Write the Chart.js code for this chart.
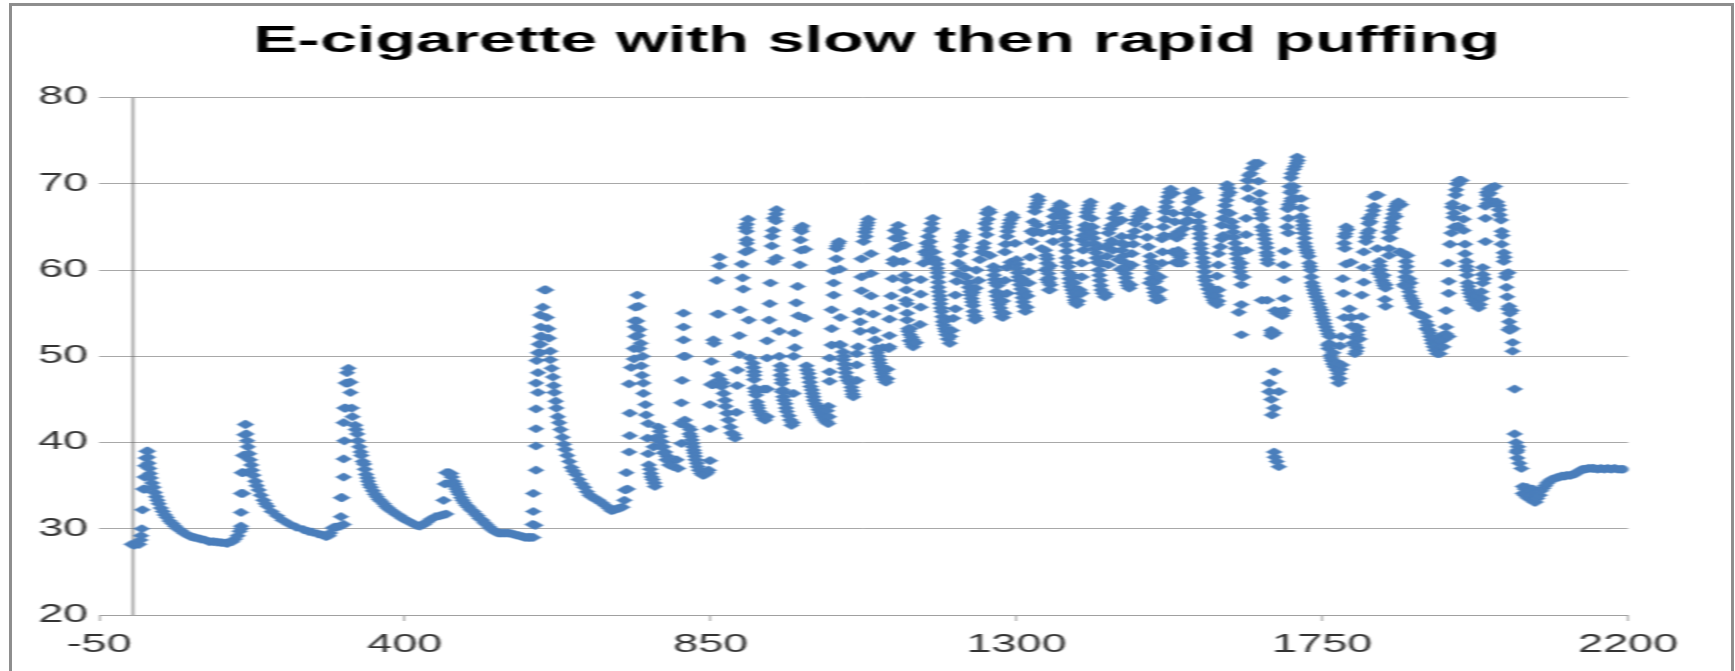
<!DOCTYPE html>
<html><head><meta charset="utf-8">
<style>
html,body{margin:0;padding:0;background:#fff;width:1735px;height:671px;overflow:hidden}
#wrap{position:absolute;left:0;top:0;width:1735px;height:671px;overflow:hidden}
#c{position:absolute;left:0;top:0;transform-origin:0 0;transform:scaleX(1.7998);filter:blur(0.45px)}
#frame{position:absolute;left:9px;top:3px;width:1719px;height:700px;border:3px solid #8e8e8e;pointer-events:none}
</style>
<script src="https://cdn.jsdelivr.net/npm/chart.js@4"></script>
</head><body>
<div id="wrap"><canvas id="c" width="964" height="671"></canvas><div id="frame"></div></div>
<script>
const titleText = "E-cigarette with slow then rapid puffing";
const xTickStep = 450, xMin = -50, xMax = 2200;
const yTickStep = 10, yMin = 20, yMax = 80;
const zeroLine = [[0,20],[0,80]];

const cycle1 = [[-2,28.2],[2,28.1],[6,28.3],[9,28.2],[11,28.7],[12,29.2],[13,30],[14,32.2],[15,34.6],[18,34.6],[17,36],[18,37.3],[19,38.2],[20,39],[22,39],[22,38.3],[23,37.6],[24,37],[25,36.4],[26,35.9],[28,35.3],[30,34.8],[32,34.2],[34,33.7],[36,33.3],[38,32.9],[41,32.4],[44,32],[47,31.6],[50,31.3],[54,30.9],[58,30.6],[62,30.3],[66,30],[70,29.8],[75,29.5],[80,29.3],[85,29.1],[90,29],[95,28.9],[100,28.8],[106,28.7],[112,28.5],[118,28.5],[124,28.45],[130,28.4],[136,28.35],[139,28.3],[146,28.5],[150,28.8],[154,29.2],[157,29.7],[159,30.3],[159,30]];
const cycle2 = [[159,31.9],[159,34.1],[162,34.1],[162,36.5],[160,36.5],[162,38.5],[164,38.5],[164,40.9],[165,42.1],[166,42.1],[167,41],[168,40.2],[169,39.5],[171,38.7],[172,38],[174,37.4],[175,36.8],[177,36.2],[180,35.5],[182,35],[185,34.5],[188,33.9],[192,33.3],[195,32.9],[198,32.6],[204,32],[212,31.5],[220,31],[231,30.5],[240,30.2],[251,29.9],[258,29.7],[264,29.6],[272,29.4],[278,29.3],[284,29.1],[288,29.2],[290,29.5],[294,30.1],[297,30.2],[300,30.2],[305,30.3],[310,30.5]];
const cycle3 = [[306,31.4],[306,33.6],[308,33.6],[310,36],[310,38.1],[311,40.2],[310,42.3],[313,44],[311,44],[313,46.9],[316,46.9],[317,48.6],[315,48.1],[320,47],[320,45.8],[322,44],[323,43],[327,42],[328,41.5],[330,41],[331,40.2],[333,39.5],[335,38.9],[336,38.5],[338,37.8],[340,37.5],[341,36.9],[343,36.3],[345,35.9],[346,35.5],[348,35.1],[350,34.8],[353,34.4],[356,34],[359,33.7],[362,33.4],[365,33.2],[369,32.9],[372,32.6],[375,32.4],[378,32.2],[382,32],[387,31.7],[392,31.5],[397,31.2],[402,31],[407,30.8],[412,30.6],[417,30.4],[422,30.3],[428,30.5],[433,30.8],[438,31.1],[445,31.4],[451,31.5],[456,31.6],[461,31.7]];
const cycle4 = [[457,33.3],[459,35.2],[461,36.5],[465,36.5],[468,36.4],[469,36],[471,35.5],[473,35.2],[474,34.9],[476,34.6],[478,34.3],[480,34],[483,33.6],[485,33.3],[488,33],[491,32.7],[494,32.5],[497,32.2],[501,32],[504,31.7],[507,31.5],[510,31.2],[514,31],[517,30.7],[520,30.5],[524,30.2],[527,30],[530,29.8],[534,29.6],[538,29.5],[543,29.5],[548,29.5],[553,29.5],[558,29.4],[563,29.3],[568,29.2],[573,29.1],[577,29],[581,29],[585,29],[589,29]];
const cycle5 = [[588,30.5],[592,30.4],[589,32],[589,34.1],[593,36.8],[593,39.6],[593,41.6],[593,43.9],[596,45.8],[593,46.9],[596,48.1],[594,49.5],[596,50.4],[599,50.4],[597,51.4],[600,51.4],[599,52.3],[602,52.3],[600,53.4],[599,54.8],[603,55.7],[605,57.7],[608,57.7],[609,54.5],[611,53.2],[612,52.1],[614,50.6],[614,49.6],[616,48.6],[618,47.6],[619,46.6],[620,45.8],[622,44.8],[623,44],[625,43],[627,42.3],[629,41.5],[632,40.6],[634,39.8],[636,39.2],[639,38.5],[642,37.8],[645,37.1],[648,36.7],[652,36.3],[656,35.7],[660,35.2],[664,34.8],[668,34.3],[672,33.9],[675,33.7],[678,33.6],[681,33.4],[685,33.3],[690,33],[695,32.7],[700,32.4],[704,32.1],[708,32.2],[712,32.3],[716,32.4],[720,32.5]];
const cycle6 = [[723,33.3],[724,34.5],[728,34.6],[726,36.5],[730,38.9],[731,40.8],[731,43.4],[730,46.8],[733,48.7],[737,49.7],[737,50.9],[739,52.3],[739,53.4],[739,55.7],[742,57.1],[738,54.1],[744,55.8],[742,54.1],[745,53.1],[743,52.4],[747,51.5],[745,50.9],[750,50],[748,48.9],[749,47.8],[751,46.9],[751,45.7],[754,44.4],[755,43.2],[758,42.2],[757,40.5],[758,38.7],[759,37.4],[761,36.9],[762,36.4],[763,36],[765,35.7],[767,35.3],[768,34.9]];
const cycle7 = [[773,41.8],[775,41.3],[776,40.7],[778,40.1],[780,39.5],[783,38.9],[786,38.4],[790,37.8],[795,37.2],[802,37],[800,38],[768,40.5],[766,39.5],[774,40.2],[777,39.5],[781,38.8],[785,38],[789,37.4]];
const cycle8 = [[810,55],[810,53.4],[810,51.9],[810,50],[813,50],[808,47.2],[807,44.6],[812,42.6],[805,42.2],[807,39.9],[817,41.8],[820,41.5],[819,41],[821,40.7],[822,40.3],[823,39.9],[824,39.5],[825,39.1],[826,38.8],[827,38.4],[828,38],[830,37.6],[831,37.2],[833,36.8],[836,36.4],[839,36.2],[842,36.3],[845,36.5],[847,36.8],[849,37.9]];
const cycle9 = [[849,41.6],[849,44.4],[851,46.7],[852,46.8],[851,49.4],[855,51.5],[854,51.9],[860,54.9],[862,54.9],[859,58.8],[863,60.5],[863,61.5],[861,47.8],[864,47.3],[866,46.5],[869,45.7],[871,44.9],[872,44.2],[874,43.4],[876,42.6],[879,41.8],[881,41.1],[884,40.9],[886,40.5],[854,46.7],[888,43.5],[868,46.9]];
const cycle10 = [[889,46.6],[889,48.4],[892,50.2],[892,52.4],[893,55.4],[898,57.8],[897,59.1],[896,60.7],[901,62.1],[906,62.3],[903,63.1],[903,63.5],[903,64.5],[901,64.9],[903,65.3],[905,65.9],[906,54.2],[908,49.8],[912,49.2],[913,48.7],[914,48.2],[914,47.8],[914,47.3],[915,46.3],[916,45.9],[917,45.5],[918,44.7],[919,44.3],[920,44],[922,43.6],[925,43.2],[928,42.8],[930,42.6],[933,43],[933,46.2],[928,46.2]];
const cycle11 = [[933,49.8],[933,51.8],[936,54.2],[937,56.1],[938,58.5],[942,61],[947,61.4],[940,62.8],[940,63.9],[942,64.6],[943,66],[946,65.7],[946,66.5],[947,67],[951,52.9],[951,50],[953,48.9],[954,48.4],[953,47.8],[955,47.3],[955,46.9],[956,46.1],[955,45.9],[957,45.3],[958,44.9],[960,44.5],[961,44],[962,43.6],[965,43.1],[967,42.6],[969,42],[971,42.3],[972,45.7]];
const cycle12 = [[972,50],[974,51],[973,52.7],[979,54.7],[989,54.4],[976,56.2],[978,58.1],[981,60.6],[983,62.3],[989,62.4],[982,63.5],[984,64.5],[982,64.7],[983,64.9],[985,65.1],[991,48.9],[992,48.4],[994,48],[995,47.5],[996,47],[997,46.5],[999,46.1],[1000,45.7],[1001,45.3],[1002,44.9],[1004,44.5],[1006,44.2],[1009,43.8],[1011,43.5],[1013,43.2],[1015,42.9],[1018,42.6],[1020,42.4],[1023,42.2],[1023,44.2],[1021,43.7],[1024,43]];
const cycle13 = [[1025,47.1],[1025,48.2],[1025,49.8],[1028,51.3],[1028,53.2],[1028,55.4],[1031,57.1],[1031,58.5],[1031,59.9],[1040,60.1],[1035,61.3],[1035,62.5],[1036,62.8],[1038,63.1],[1039,63.3],[1041,54.5],[1040,51.4],[1041,51.3],[1045,50.5],[1046,50],[1045,49.6],[1047,49.1],[1048,48.6],[1049,48.1],[1050,47.6],[1052,47.2],[1055,46.9],[1057,46.4],[1058,46],[1059,45.6],[1060,45.3],[1065,47.2]];
const cycle14 = [[1065,49],[1065,50.3],[1067,51.1],[1070,52.9],[1070,54],[1069,55.2],[1072,57.6],[1072,59.2],[1072,61.3],[1075,63.3],[1077,64.4],[1078,63.9],[1079,64.8],[1080,65.2],[1081,65.5],[1082,65.9],[1086,57],[1089,54.9],[1089,53],[1086,59.6],[1086,61.9],[1092,51.9],[1094,50.9],[1095,50.4],[1097,50],[1098,49.6],[1099,49.2],[1100,48.8],[1102,48.4],[1103,48],[1104,47.6],[1106,47.3],[1108,47],[1110,47.4],[1110,48.5],[1103,51],[1112,50.9]];
const cycle15 = [[1113,51.1],[1113,52.4],[1113,54.3],[1116,55.6],[1116,57],[1118,59],[1119,60.8],[1119,61.2],[1124,62.5],[1121,63.7],[1121,64.6],[1126,65.2],[1127,63.7],[1129,64.3],[1130,62.8],[1136,62.9],[1133,61],[1136,59.4],[1138,58.8],[1138,57.7],[1137,56.5],[1139,56.1],[1139,55],[1139,54.2],[1141,53.2],[1141,52.9],[1143,52.5],[1144,53.2],[1143,51.8],[1146,52.2],[1146,51.4],[1148,51.9],[1148,51.1],[1150,51.5],[1152,51.6],[1158,53.7],[1159,55.7],[1159,57.2],[1159,58.9]];
const cycle16 = [[1163,60.8],[1165,62.1],[1168,63.1],[1168,61.8],[1170,63.9],[1171,62.7],[1172,61.4],[1173,64.6],[1173,63.3],[1175,65.4],[1176,64.8],[1177,66],[1177,61],[1178,62.1],[1182,61.2],[1183,60.7],[1183,60.2],[1184,59.7],[1184,59.2],[1185,58.6],[1185,58],[1186,57.5],[1187,57],[1188,56.6],[1188,56.1],[1189,55.6],[1190,55.2],[1191,54.6],[1192,54],[1193,53.6],[1195,53.2],[1195,54.2],[1196,52.9],[1197,52.5],[1199,52],[1202,51.5],[1203,52.3],[1205,53],[1207,54.4],[1210,55.5],[1210,57.1]];
const cycle17 = [[1212,58.7],[1213,59.6],[1214,60.8],[1217,61.9],[1218,62.7],[1219,63.5],[1221,64.3],[1222,63.9],[1224,60.2],[1226,59.2],[1229,58.5],[1230,58],[1232,57.5],[1233,57.1],[1234,56.7],[1235,56.3],[1236,55.9],[1236,57.4],[1237,55.2],[1238,54.7],[1239,54.2],[1240,57.9],[1241,54.4],[1244,58.8]];
const cycle18 = [[1241,60],[1246,61.2],[1249,62.1],[1251,62.6],[1252,63.1],[1255,64.8],[1254,65.4],[1256,64.1],[1256,66.6],[1258,65.9],[1259,67],[1261,66.7],[1261,61.7],[1266,60.4],[1268,60],[1267,59.4],[1268,58.9],[1269,58.5],[1270,57.5],[1271,57],[1272,58.2],[1273,56.5],[1274,56],[1275,57],[1276,55.6],[1277,55.1],[1278,54.6],[1280,54.5],[1280,56.4],[1282,55],[1283,58.8],[1286,57.3]];
const cycle19 = [[1283,62.1],[1284,63],[1286,63.9],[1286,60.3],[1287,64.5],[1288,65],[1290,65.4],[1291,65.8],[1291,60.9],[1293,66.4],[1295,66.1],[1298,63.1],[1300,61.2],[1301,60.7],[1301,60.2],[1302,59.7],[1303,59.2],[1304,58.8],[1305,58.3],[1307,57.8],[1308,57.3],[1308,59],[1309,56.8],[1310,56.3],[1311,55.8],[1312,57.5],[1313,55.2],[1315,55.7],[1316,57],[1318,59.8],[1318,58.5]];
const cycle20 = [[1320,61.5],[1322,63.3],[1322,64.5],[1325,65.6],[1325,64.3],[1327,66.8],[1328,67.3],[1329,64.5],[1330,67.7],[1331,68.5],[1331,65.2],[1333,68.1],[1337,64.3],[1337,62.5],[1342,62.3],[1344,61.7],[1345,61.3],[1345,60.8],[1343,60],[1346,60.2],[1347,59.6],[1348,59.1],[1347,58.6],[1345,58.9],[1350,58.3],[1348,57.7],[1350,60.5],[1349,59],[1349,57.7]];
const cycle21 = [[1353,64.5],[1354,63.3],[1354,65.4],[1355,66.2],[1357,65],[1357,67],[1359,66.4],[1361,67],[1364,67.5],[1364,67.7],[1367,67.5],[1371,66.6],[1368,66.1],[1369,65.6],[1371,65],[1372,64.4],[1372,63.6],[1373,62.9],[1374,62.2],[1374,61.4],[1375,60.9],[1376,60.4],[1377,59.7],[1378,59],[1379,58.5],[1380,58.1],[1382,57.7],[1384,57.3],[1385,56.9],[1385,58.5],[1386,56.5],[1387,56.2],[1388,57.5],[1381,59.4],[1389,56],[1391,56.4],[1393,57.7],[1396,57.3],[1396,59.2],[1396,60.8]];
const cycle22 = [[1398,62.3],[1396,63.5],[1398,64],[1400,64.7],[1402,63],[1401,65.2],[1405,65],[1403,66.2],[1404,66.7],[1406,67.1],[1407,67.5],[1409,67.9],[1411,66],[1412,65],[1412,64.3],[1413,63.7],[1414,63.1],[1416,62.5],[1417,62],[1418,61.4],[1419,60.9],[1420,62.7],[1421,60],[1422,59.4],[1423,58.8],[1424,58.2],[1425,57.7],[1425,60.8],[1427,57.3],[1430,56.9],[1432,57.2],[1433,61.6],[1433,62.6],[1435,60.6]];
const cycle23 = [[1435,64.3],[1437,63],[1438,64.8],[1440,65.2],[1440,63.4],[1442,62.3],[1443,66],[1445,66.6],[1446,65.4],[1448,67.2],[1450,67.4],[1455,65.8],[1455,63.9],[1456,63.1],[1455,62.3],[1456,61.6],[1457,61],[1458,60.3],[1459,62.9],[1453,60.1],[1450,61.2],[1460,59.6],[1461,59.1],[1462,58.6],[1463,60.2],[1464,58.2],[1466,57.9],[1468,58.3]];
const cycle24 = [[1470,60.6],[1470,61.9],[1470,63.9],[1472,63],[1474,64.5],[1475,65.4],[1477,65.8],[1479,66.2],[1481,66.6],[1482,66],[1484,67],[1487,66.6],[1492,65],[1492,63.8],[1494,62.7],[1497,61.6],[1498,61],[1499,60.4],[1500,59.7],[1499,59],[1501,58.5],[1496,58.5],[1502,60.2],[1502,57.9],[1503,57.4],[1505,58.7],[1505,57],[1506,56.5],[1508,56.8],[1510,56.6],[1511,57.7],[1511,59.2]];
const cycle25 = [[1514,60.8],[1515,62.1],[1514,63.6],[1517,64],[1516,65],[1518,65.9],[1519,66.8],[1520,67.3],[1521,67.9],[1523,68.5],[1525,69],[1527,69.4],[1531,68.9],[1531,66.6],[1533,65.6],[1536,63.7],[1538,64.4],[1541,64.1],[1530,64],[1530,62.1],[1534,60.9],[1537,60.8],[1537,61.8],[1538,62.3],[1541,61.5],[1540,60.9],[1543,60.8],[1543,61.9]];
const cycle26 = [[1546,64.8],[1549,65.5],[1551,66.6],[1552,65.8],[1553,67],[1555,67.9],[1556,69],[1558,68.4],[1560,69.2],[1562,69],[1565,68.4],[1568,66.4],[1568,65.6],[1569,65],[1569,64.8],[1570,64.2],[1570,63.7],[1571,63],[1571,62.5],[1573,62],[1574,61.4],[1575,60.9],[1576,60.4],[1577,59.8],[1577,59.2],[1578,58.8],[1580,58.3],[1582,57.8],[1585,57.3],[1587,56.9],[1589,57.8],[1590,56.5],[1592,56.2],[1594,57],[1595,56],[1595,59.3],[1597,56.4],[1597,57.7]];
const cycle27 = [[1597,60.6],[1597,61.9],[1600,62.7],[1602,63.6],[1604,64],[1602,65.2],[1604,66],[1607,66.8],[1607,67.5],[1609,68.1],[1611,68.7],[1609,69.5],[1610,69.9],[1612,69.5],[1614,69],[1614,66.6],[1617,65.6],[1618,65],[1619,64.4],[1620,63.8],[1622,63.1],[1623,62.5],[1624,61.9],[1625,61.3],[1627,60.8],[1628,60.3],[1629,59.8],[1631,59.2],[1631,58.3],[1631,56],[1627,55.1],[1631,52.5]];
const cycle28 = [[1631,60.8],[1634,59.2],[1638,62.3],[1638,64.1],[1638,66],[1642,68.3],[1640,69.5],[1640,70.4],[1642,71],[1645,71.2],[1647,71.8],[1650,72.4],[1653,72.2],[1656,72.4],[1656,70.3],[1658,68.9],[1658,67.9],[1658,67],[1660,66.5],[1661,66],[1661,65],[1663,64.6],[1664,64.1],[1665,63.6],[1667,63.1],[1668,62.6],[1668,62],[1669,61.7],[1669,61.2],[1670,60.8]];
const cycle29 = [[1661,56.5],[1669,56.5],[1675,53],[1676,52.7],[1675,52.4],[1677,52.5],[1680,52.7],[1679,48.2],[1672,46.9],[1672,45.9],[1686,45.9],[1675,45],[1679,44],[1676,43.2],[1679,38.9],[1680,38.3],[1683,37.8],[1686,37.2],[1680,55.3],[1684,55],[1686,55],[1689,55.2],[1691,54.7],[1692,55],[1694,55.3]];
const cycle30 = [[1694,56.7],[1694,58.9],[1693,60.6],[1695,62.2],[1700,64.3],[1698,65],[1700,66],[1699,67.1],[1701,67.6],[1702,67.3],[1704,68],[1705,68.3],[1703,69],[1702,69.7],[1706,69.2],[1708,69.7],[1704,70.7],[1705,71.2],[1708,71.7],[1710,72],[1712,72.4],[1714,72.7],[1713,73.1],[1711,68.3],[1719,68.3],[1719,67.2],[1719,66.2],[1721,65.7],[1722,65.2],[1722,64.8],[1723,64.3],[1724,63.7],[1724,63.1],[1725,62.7],[1727,62.3],[1728,62],[1730,61.6],[1731,60.8],[1732,60.4],[1733,60],[1734,59.2],[1735,58.5],[1736,58.1],[1738,57.7],[1739,57.3],[1741,56.9],[1743,56.5],[1745,56.1],[1746,55.7],[1748,55.4],[1749,55],[1750,54.6],[1752,54.2],[1753,53.8],[1755,53.4],[1757,53],[1759,52.6],[1761,52.3],[1760,51.5],[1759,50.9],[1758,51.3],[1762,50.1],[1763,49.8],[1764,49.5],[1766,49.1],[1766,50.4],[1768,48.8],[1771,48.4],[1771,49.3],[1772,47.5],[1774,48],[1774,46.9],[1776,47.4],[1777,48.5],[1779,49]];
const cycle31 = [[1778,52.3],[1776,51.2],[1782,54.5],[1781,57.3],[1780,59],[1785,60.7],[1792,60.9],[1783,62.5],[1782,63.1],[1783,63.9],[1784,64.2],[1787,64.7],[1785,65],[1790,55.5],[1793,54.5],[1792,54.5],[1793,53.5],[1801,53.4],[1803,53],[1801,52.5],[1797,52.2],[1805,52],[1795,51.5],[1798,51.3],[1801,51],[1800,50.6],[1798,50.3],[1808,54.6],[1808,57.1],[1811,58.6],[1811,60.3],[1811,62.1],[1814,63.3],[1817,63.8],[1815,63.8],[1816,64.3],[1819,64.6],[1818,65.4],[1821,65.6],[1818,66],[1823,66.4],[1825,66.9],[1826,67.4],[1827,68.5],[1829,68.7],[1832,68.7]];
const cycle32 = [[1831,62.5],[1848,62.5],[1848,61.7],[1834,61],[1835,60.5],[1832,60],[1836,60],[1833,59.6],[1840,59.4],[1837,59.2],[1838,58.8],[1840,58.5],[1843,58.3],[1841,58.2],[1843,57.9],[1842,56.6],[1843,55.8],[1848,63.7],[1850,63.7],[1848,64.4],[1851,65],[1855,64.8],[1852,65.5],[1853,66],[1858,66.2],[1855,66.5],[1856,67],[1858,67.4],[1864,67.5],[1866,67.6],[1860,67.7],[1862,67.9]];
const cycle33 = [[1864,62.1],[1868,62],[1871,61.8],[1875,61.7],[1873,61],[1874,60.4],[1873,59.8],[1872,59.2],[1878,59],[1875,58.8],[1880,58.5],[1870,58.3],[1872,58.1],[1876,58],[1878,57.5],[1879,57],[1881,56.7],[1883,56.4],[1886,56.1],[1885,55.7],[1889,55],[1891,54.9],[1895,54.8],[1898,54.7],[1900,54.6],[1902,54],[1905,53.6],[1903,53.2],[1907,53],[1908,52.7],[1909,52.3],[1911,51.9],[1914,52],[1912,51.5],[1918,51.5],[1914,51.1],[1916,50.7],[1921,51],[1925,51.8],[1926,52.4],[1928,51.1],[1919,50.3],[1923,50.3],[1930,52],[1932,52.6],[1936,52.3]];
const cycle34 = [[1932,53.4],[1932,55.3],[1936,57.3],[1936,58.7],[1935,60.8],[1938,63],[1940,64.3],[1944,65],[1943,66.1],[1944,66.6],[1941,67.3],[1942,67.7],[1946,68.7],[1947,69.3],[1948,70],[1950,70],[1951,70.4],[1953,70.4],[1955,70.4],[1958,67.2],[1958,65.9],[1950,65.1],[1958,64.6],[1960,63],[1960,61.9],[1962,61],[1962,60.4],[1963,60],[1963,59.4],[1964,58.5],[1965,58.1],[1966,57.7],[1967,57.3],[1969,56.9],[1971,56.5],[1974,56.1],[1976,56],[1978,57],[1980,55.6],[1982,56],[1984,57.5],[1985,56.7]];
const cycle35 = [[1986,58.5],[1988,59],[1986,59.5],[1986,60.3],[1990,63.3],[1990,66],[1990,67.4],[1993,67.7],[1994,68.2],[1993,68.7],[1992,69],[1995,69.4],[1997,68.9],[1999,69.6],[2000,69.5],[2004,69.7],[2007,67.9],[2009,67.5],[2010,67],[2011,66.4],[2013,65.8],[2014,64.5],[2015,64],[2014,63],[2017,62],[2018,61.5],[2017,61],[2024,59.7],[2021,59.6],[2020,59.2],[2021,58],[2022,56.9],[2025,55.8],[2029,55.3],[2023,55.5],[2026,55],[2025,54],[2027,53.3],[2030,53.2],[2024,53.1],[2026,53],[2030,51.6],[2030,50.6],[2033,46.2],[2033,41],[2035,40],[2038,39.5],[2037,39.1],[2036,38.9],[2037,38.2],[2040,37.6],[2043,37]];
const cycle36 = [[2045,34.9],[2051,34.8],[2048,34.6],[2045,34.1],[2048,33.9],[2055,34.5],[2058,34.3],[2054,33.7],[2052,33.6],[2056,33.4],[2060,33.3],[2062,33.1],[2064,33.1],[2060,34.6],[2064,34.3],[2066,33.5],[2068,34.3],[2070,33.9],[2072,34.4],[2075,34.7],[2078,35],[2081,35.3],[2084,35.5],[2087,35.7],[2090,35.8],[2094,35.9],[2098,36],[2102,36.1],[2106,36.1],[2110,36.2],[2115,36.2],[2119,36.3],[2123,36.4],[2127,36.6],[2130,36.8],[2133,36.9],[2137,36.9],[2141,37],[2146,37],[2150,37],[2155,36.9],[2160,37],[2165,36.9],[2170,37],[2175,36.9],[2180,37],[2185,36.9],[2190,36.9],[2193,36.9]];

const allCycles = [cycle1,cycle2,cycle3,cycle4,cycle5,cycle6,cycle7,cycle8,cycle9,cycle10,cycle11,cycle12,cycle13,cycle14,cycle15,cycle16,cycle17,cycle18,cycle19,cycle20,cycle21,cycle22,cycle23,cycle24,cycle25,cycle26,cycle27,cycle28,cycle29,cycle30,cycle31,cycle32,cycle33,cycle34,cycle35,cycle36];
const points = allCycles.flat().map(p => ({x:p[0], y:p[1]}));

const fontFamily = '"Liberation Sans", Arial, sans-serif';
new Chart(document.getElementById('c'), {
  type:'scatter',
  data:{datasets:[
    {data:points, pointStyle:'rectRot', pointRadius:4.6, pointBackgroundColor:'#4a7ebb', pointBorderWidth:0, order:1},
    {data:zeroLine.map(p=>({x:p[0],y:p[1]})), showLine:true, pointRadius:0, borderColor:'#5f5f5f', borderWidth:0.9, order:2}
  ]},
  options:{
    responsive:false, animation:false,
    layout:{padding:{left:10,right:0,top:0,bottom:0}},
    plugins:{
      legend:{display:false}, tooltip:{enabled:false},
      title:{display:true,text:titleText,color:'#000',
        font:{family:fontFamily,size:37,weight:'bold',lineHeight:1.2},
        padding:{top:19.5,bottom:33.7}}
    },
    scales:{
      x:{type:'linear',min:xMin,max:xMax,
        afterFit:s=>{s.height=56;},
        border:{color:'#a0a0a0',width:1},
        grid:{drawOnChartArea:false,drawTicks:true,tickLength:6,color:'#a0a0a0'},
        ticks:{stepSize:xTickStep,autoSkip:false,maxRotation:0,padding:9,color:'#333',font:{family:fontFamily,size:25},callback:v=>String(v)}
      },
      y:{min:yMin,max:yMax,
        afterFit:s=>{s.width=45;},
        border:{display:false},
        grid:{color:'#a8a8a8',lineWidth:1,drawTicks:false},
        ticks:{stepSize:yTickStep,padding:6,color:'#333',font:{family:fontFamily,size:25}}
      },
      rightMargin:{position:'right',display:true,min:0,max:1,
        afterFit:s=>{s.width=59.4;},
        border:{display:false},grid:{display:false},ticks:{display:false}
      }
    }
  }
});
</script>
</body></html>
